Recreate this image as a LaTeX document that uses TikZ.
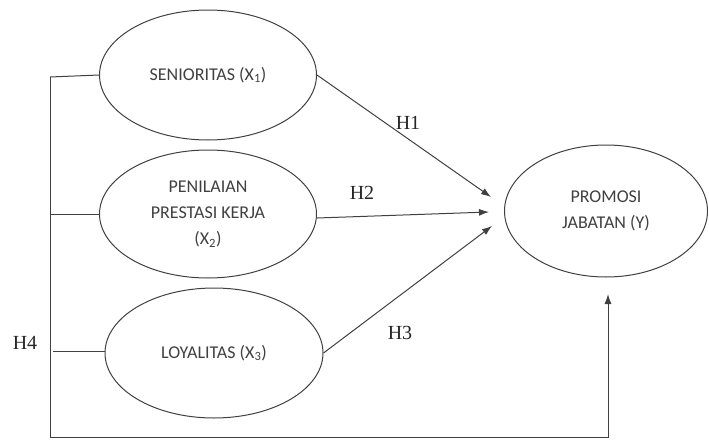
\documentclass[tikz,border=0pt]{standalone}
\usepackage{fontspec}
\setmainfont{Liberation Serif}
\newfontfamily\calibri{Carlito}
\usetikzlibrary{arrows.meta,positioning,shapes.geometric}

\tikzset{
  var/.style={ellipse, draw=black!75, line width=1pt, inner sep=0pt, align=center,
    text=black!75, font=\calibri\fontsize{18}{26}\selectfont},
  hyp/.style={text=black!85, font=\fontsize{20}{24}\selectfont},
  link/.style={draw=black!75, line width=1pt},
  arr/.style={link, -{Latex[length=10pt,width=7pt]}}
}

\begin{document}
\begin{tikzpicture}[x=1pt,y=-1pt]
        \useasboundingbox (0,0) rectangle (709,447);

        \node (senior) [var, minimum width=217pt, minimum height=130pt] at (208,75) {SENIORITAS (X\textsubscript{1})};
        \node (nilai) [var, minimum width=217pt, minimum height=128pt] at (208,214) {PENILAIAN\\PRESTASI KERJA\\(X\textsubscript{2})};
        \node (loyal) [var, minimum width=218pt, minimum height=130pt] at (214,353) {LOYALITAS (X\textsubscript{3})};
        \node (promosi) [var, minimum width=203pt, minimum height=132pt] at (606,211) {PROMOSI\\JABATAN (Y)};

        \node (h1) [hyp] at (408,123) {H1};
        \node (h2) [hyp] at (362,193) {H2};
        \node (h3) [hyp] at (400,333) {H3};
        \node (h4) [hyp] at (25,343) {H4};

        \coordinate (tip1) at (491,197);
        \coordinate (tip2) at (489,212);
        \coordinate (tip3) at (492,226);
        \coordinate (tip4) at (608,294);
        \coordinate (top) at (50,77);
        \coordinate (corner) at (50,437);
        \coordinate (stub3) at (53,351);

%%      hypotheses H1--H3
        \draw[arr] (senior.east) -- (tip1);
        \draw[arr] ([yshift=-4pt]nilai.east) -- (tip2);
        \draw[arr] (loyal.east) -- (tip3);

%%      joint effect H4
        \draw[link] (top) -- (corner);
        \draw[link] (top) -- (senior.west);
        \draw[link] (nilai.west -| top) -- (nilai.west);
        \draw[link] (stub3) -- (loyal.west |- stub3);
        \draw[arr] (corner) -| (tip4);
\end{tikzpicture}
\end{document}
